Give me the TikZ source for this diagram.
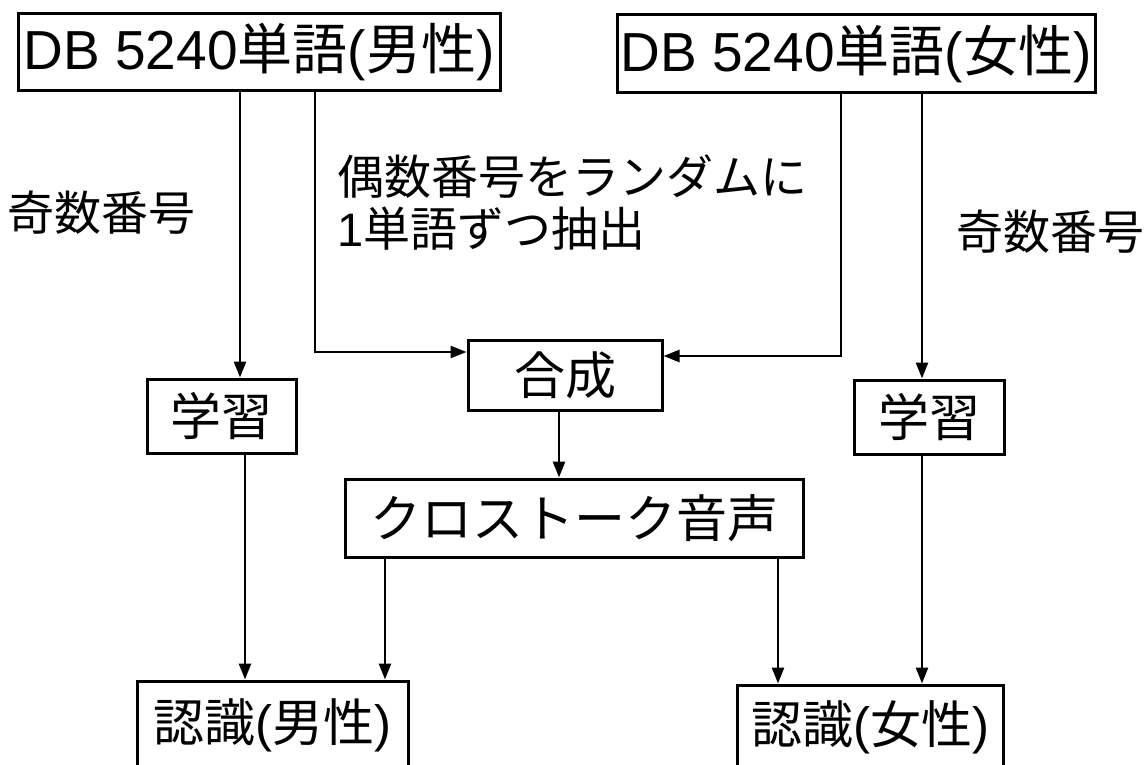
\documentclass[tikz,border=0pt]{standalone}
\usepackage{fontspec}
\setmainfont{Liberation Sans}
\newfontfamily\cjk{Noto Sans CJK JP}
\newcommand\J[1]{{\cjk #1}}
\usetikzlibrary{arrows.meta}
\begin{document}
\begin{tikzpicture}[x=1pt,y=-1pt,
  boxnode/.style={draw,line width=3pt,inner sep=0pt,align=center,font=\fontsize{51}{56}\selectfont},
  dbbox/.style={boxnode,font=\fontsize{55}{60}\selectfont},
  lbl/.style={inner sep=0pt,font=\fontsize{47}{52}\selectfont},
  conn/.style={line width=2.6pt,-{Triangle[length=16pt,width=12pt]}},
  plain/.style={line width=2.6pt}]
\useasboundingbox (0,0) rectangle (1146,765);
\clip (0,0) rectangle (1146,765);
\fill[white] (0,0) rectangle (1146,765);
% boxes
\node[dbbox,minimum width=482pt,minimum height=77pt] (db1) at (259,52.5) {DB 5240\J{単語}(\J{男性})};
\node[dbbox,minimum width=478pt,minimum height=78pt] (db2) at (856,54) {DB 5240\J{単語}(\J{女性})};
\node[boxnode,minimum width=194pt,minimum height=70pt] (syn) at (565,375) {\J{合成}};
\node[boxnode,minimum width=149pt,minimum height=74pt] (learnL) at (221.5,416) {\J{学習}};
\node[boxnode,minimum width=150pt,minimum height=74pt] (learnR) at (929,417) {\J{学習}};
\node[boxnode,minimum width=458pt,minimum height=78pt] (cross) at (574,518) {\J{クロストーク音声}};
\node[boxnode,minimum width=271pt,minimum height=89pt] (recM) at (272.5,725.5) {\raisebox{2pt}{\J{認識}(\J{男性})}};
\node[boxnode,minimum width=266pt,minimum height=85pt] (recF) at (870,727.5) {\raisebox{2pt}{\J{認識}(\J{女性})}};
% labels
\node[lbl] (oddL) at (102,213) {\J{奇数番号}};
\node[lbl] (oddR) at (1050,232) {\J{奇数番号}};
\node[lbl,align=left,anchor=west] (even) at (337,203) {\J{偶数番号をランダムに}\\1\J{単語ずつ抽出}};
% x positions
\coordinate (x240) at (240,0);
\coordinate (x315) at (315,0);
\coordinate (x841) at (841,0);
\coordinate (x922) at (922,0);
\coordinate (x559) at (559,0);
\coordinate (x245) at (245,0);
\coordinate (x385) at (385,0);
\coordinate (x778) at (778,0);
\coordinate (y352) at (0,352);
\coordinate (y356) at (0,356);
% connectors
\draw[conn] (db1.south -| x240) -- (learnL.north -| x240);
\draw[conn] (db1.south -| x315) |- (syn.west |- y352);
\draw[conn] (db2.south -| x841) |- (syn.east |- y356);
\draw[conn] (db2.south -| x922) -- (learnR.north -| x922);
\draw[conn] (syn.south -| x559) -- (cross.north -| x559);
\draw[conn] (learnL.south -| x245) -- (recM.north -| x245);
\draw[conn] (cross.south -| x385) -- (recM.north -| x385);
\draw[conn] (cross.south -| x778) -- (recF.north -| x778);
\draw[conn] (learnR.south -| x922) -- (recF.north -| x922);
\end{tikzpicture}
\end{document}
